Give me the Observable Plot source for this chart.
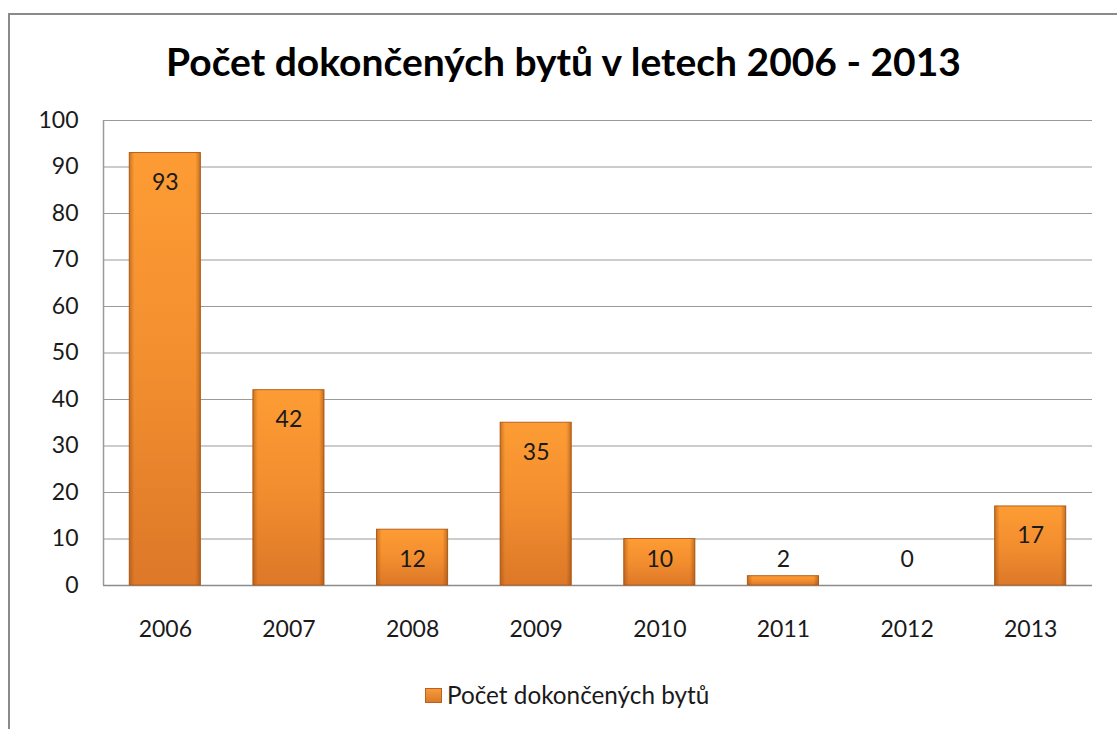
<!DOCTYPE html>
<html>
<head>
<meta charset="utf-8">
<script src="https://cdn.jsdelivr.net/npm/d3@7"></script>
<script src="https://cdn.jsdelivr.net/npm/@observablehq/plot@0.6"></script>
<style>
  html, body { margin: 0; padding: 0; background: #fff; width: 1117px; height: 729px; overflow: hidden; }
  #frame { position: absolute; left: 8px; top: 13px; width: 1130px; height: 740px; border: 2px solid #8a8a8a; box-sizing: border-box; }
  #title { position: absolute; left: 0; width: 1127px; top: 37px; text-align: center; font-family: Lato, "Open Sans", sans-serif; font-weight: bold; font-size: 39px; color: #000; line-height: 48px; }
  #chart { position: absolute; left: 0; top: 0; }
  #legend { position: absolute; left: 425px; top: 680px; font-family: Lato, sans-serif; font-size: 24.3px; color: #1a1a1a; display: flex; align-items: center; line-height: 30px; }
  #legend .sw { width: 17px; height: 15px; margin-right: 5px; background: linear-gradient(#fa9d3c, #d9772a); box-shadow: inset 0 0 0 1px #b8621f; }
</style>
</head>
<body>
<div id="frame"></div>
<div id="title">Počet dokončených bytů v letech 2006 - 2013</div>
<div id="chart"></div>
<div id="legend"><span class="sw"></span><span>Počet dokončených bytů</span></div>
<script>
const years = ["2006", "2007", "2008", "2009", "2010", "2011", "2012", "2013"];
const values = [93, 42, 12, 35, 10, 2, 0, 17];
const yTicks = [0, 10, 20, 30, 40, 50, 60, 70, 80, 90, 100];
const seriesName = "Počet dokončených bytů";

const data = years.map((y, i) => ({year: y, value: values[i]}));

const chart = Plot.plot({
  width: 1117,
  height: 729,
  marginLeft: 103,
  marginRight: 25,
  marginTop: 120,
  marginBottom: 144,
  style: {fontFamily: "Lato, sans-serif", fontSize: "23px", color: "#1a1a1a", background: "transparent"},
  x: {domain: years, paddingInner: 0.425, paddingOuter: 0.2125, round: false, label: null, tickSize: 0, tickPadding: 35},
  y: {domain: [0, 100], ticks: yTicks, label: null, tickSize: 0, tickPadding: 25},
  marks: [
    Plot.gridY(yTicks, {stroke: "#9a9a9a", strokeOpacity: 1, strokeWidth: 1.2}),
    Plot.ruleX([years[0]], {y1: 0, y2: 100, stroke: "#9a9a9a", strokeWidth: 1.5, dx: -61.8}),
    Plot.ruleY([0], {stroke: "#8c8c8c", strokeWidth: 1.5}),
    Plot.barY(data.filter(d => d.value > 0), {x: "year", y: "value", fill: "url(#barGrad)", stroke: "#b9611d", strokeWidth: 1}),
    Plot.barY(data.filter(d => d.value > 0), {x: "year", y: "value", fill: "url(#edgeGrad)"}),
    Plot.text(data, {x: "year", y: d => Math.max(d.value, 12), dy: 29.5, text: d => String(d.value), fill: "#1a1a1a", fontSize: 23})
  ]
});

// gradient definitions for Excel-like bevelled bars
const ns = "http://www.w3.org/2000/svg";
const defs = document.createElementNS(ns, "defs");
defs.innerHTML = `
  <linearGradient id="barGrad" x1="0" y1="0" x2="0" y2="1">
    <stop offset="0" stop-color="#fd9c34"/>
    <stop offset="0.5" stop-color="#f38e2f"/>
    <stop offset="1" stop-color="#dc7828"/>
  </linearGradient>
  <linearGradient id="edgeGrad" x1="0" y1="0" x2="1" y2="0">
    <stop offset="0" stop-color="#8a4510" stop-opacity="0.45"/>
    <stop offset="0.07" stop-color="#8a4510" stop-opacity="0"/>
    <stop offset="0.93" stop-color="#8a4510" stop-opacity="0"/>
    <stop offset="1" stop-color="#8a4510" stop-opacity="0.5"/>
  </linearGradient>`;
chart.insertBefore(defs, chart.firstChild);
document.getElementById("chart").appendChild(chart);
</script>
</body>
</html>
